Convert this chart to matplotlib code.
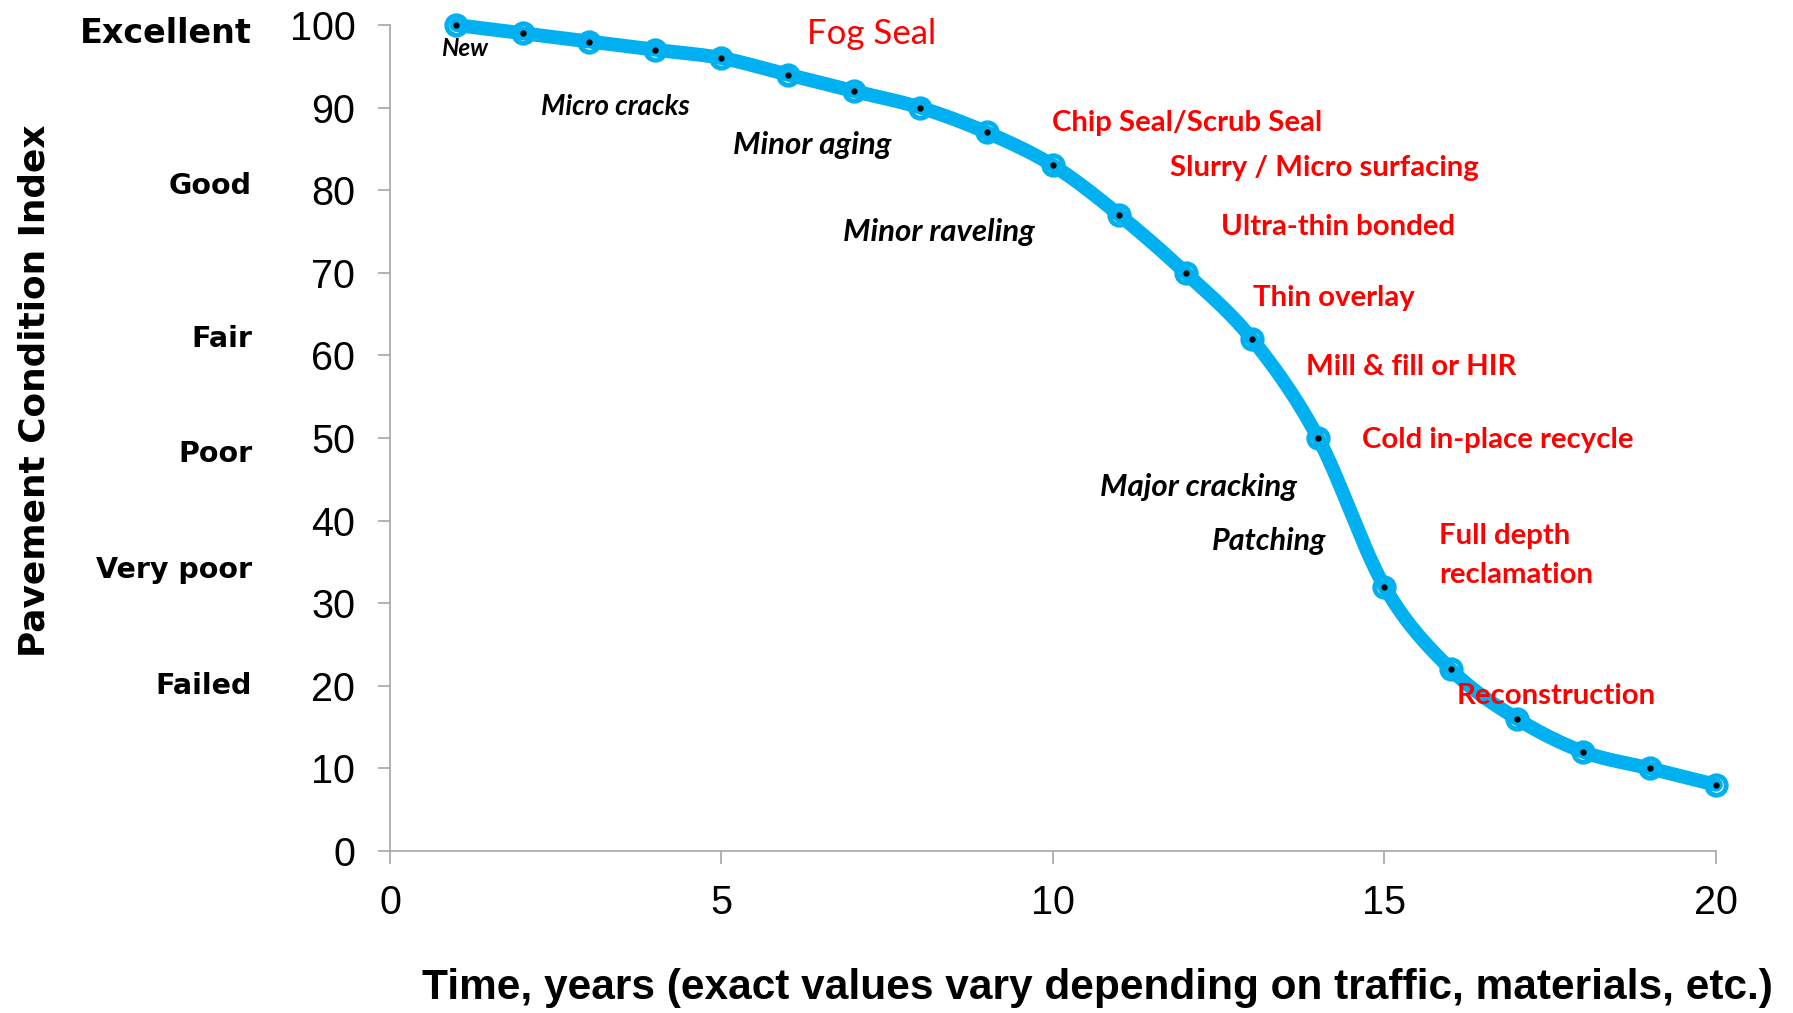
import numpy as np
import matplotlib
matplotlib.use("Agg")
import matplotlib.pyplot as plt

# PCI vs age
years = [1, 2, 3, 4, 5, 6, 7, 8, 9, 10, 11, 12, 13, 14, 15, 16, 17, 18, 19, 20]
pci = [100, 99, 98, 97, 96, 94, 92, 90, 87, 83, 77, 70, 62, 50, 32, 22, 16, 12, 10, 8]

x_ticks = [0, 5, 10, 15, 20]
y_ticks = [0, 10, 20, 30, 40, 50, 60, 70, 80, 90, 100]

cond_labels = ["Excellent", "Good", "Fair", "Poor", "Very poor", "Failed"]
cond_levels = [99, 80.5, 62, 48, 34, 20]

distress_labels = ["New", "Micro cracks", "Minor aging", "Minor raveling",
                   "Major cracking", "Patching"]
distress_x = [1.13, 2.28, 5.17, 6.83, 10.71, 12.40]
distress_y = [97.1, 90.1, 85.5, 74.9, 44.1, 37.5]

treat_labels = ["Chip Seal/Scrub Seal", "Slurry / Micro surfacing", "Ultra-thin bonded",
                "Thin overlay", "Mill & fill or HIR", "Cold in-place recycle",
                "Full depth\nreclamation", "Reconstruction"]
treat_x = [9.98, 11.76, 12.53, 13.02, 13.82, 14.66, 15.82, 16.09]
treat_y = [88.1, 82.7, 75.6, 66.9, 58.6, 49.7, 35.8, 18.8]

BLUE = "#00B0F0"
RED = "#FF0000"
GRAY = "#A6A6A6"


def smooth_curve(x, y, n=40):
    # Catmull-Rom through the points, like Excel's "smoothed line"
    pts = np.column_stack([x, y]).astype(float)
    P = np.vstack([pts[0], pts, pts[-1]])
    t = np.linspace(0, 1, n)[:, None]
    segs = []
    for i in range(1, len(P) - 2):
        p0, p1, p2, p3 = P[i - 1], P[i], P[i + 1], P[i + 2]
        seg = 0.5 * (2 * p1 + (-p0 + p2) * t
                     + (2 * p0 - 5 * p1 + 4 * p2 - p3) * t ** 2
                     + (-p0 + 3 * p1 - 3 * p2 + p3) * t ** 3)
        segs.append(seg)
    c = np.vstack(segs)
    return c[:, 0], c[:, 1]


fig = plt.figure(figsize=(17.93, 10.13), dpi=100)
ax = fig.add_axes([0.2175, 0.160, 0.7395, 0.8153])

sx, sy = smooth_curve(years, pci)
ax.plot(sx, sy, color=BLUE, lw=10, solid_capstyle="round", solid_joinstyle="round",
        zorder=2, clip_on=False)
ax.plot(years, pci, ls="none", marker="o", ms=14, mfc="none", mec=BLUE, mew=3.5,
        zorder=3, clip_on=False)
ax.plot(years, pci, ls="none", marker="o", ms=3.5, mfc="black", mec="black",
        zorder=4, clip_on=False)

ax.set_xlim(0, 20)
ax.set_ylim(0, 100)
ax.set_xticks(x_ticks)
ax.set_yticks(y_ticks)

for s in ["top", "right"]:
    ax.spines[s].set_visible(False)
for s in ["left", "bottom"]:
    ax.spines[s].set_color(GRAY)
    ax.spines[s].set_linewidth(1.2)

ax.tick_params(axis="both", direction="out", length=9, width=1.2, color=GRAY,
               labelsize=28.5, labelcolor="black")
ax.tick_params(axis="y", pad=16)
ax.tick_params(axis="x", pad=15)
for lab in ax.get_xticklabels() + ax.get_yticklabels():
    lab.set_family("Liberation Sans")

fig.text(0.612, 0.025, "Time, years (exact values vary depending on traffic, materials, etc.)",
         ha="center", va="center", family="Liberation Sans", fontsize=30.5,
         fontweight="bold")
fig.text(0.019, 0.614, "Pavement Condition Index", rotation=90, ha="center",
         va="center", family="DejaVu Sans", fontsize=25.8, fontweight="bold")

# condition ratings left of the axis
for i, (lab, lev) in enumerate(zip(cond_labels, cond_levels)):
    ax.text(-2.08, lev, lab, ha="right", va="center", family="DejaVu Sans",
            fontsize=24 if i == 0 else 20.5, fontweight="bold", clip_on=False)

# distress descriptions
distress_sizes = [17.5, 20, 22.5, 22.5, 22.5, 22]
for i, (lab, dx, dy) in enumerate(zip(distress_labels, distress_x, distress_y)):
    ax.text(dx, dy, lab, ha="center" if i == 0 else "left", va="center",
            family="Lato", style="italic", fontweight="bold",
            fontsize=distress_sizes[i], color="black", zorder=5)

# treatments
ax.text(6.29, 98.9, "Fog Seal", ha="left", va="center", color=RED, fontsize=25,
        family="Lato", zorder=5)
for lab, tx, ty in zip(treat_labels, treat_x, treat_y):
    ax.text(tx, ty, lab, ha="left", va="center", color=RED, fontsize=21.2,
            family="Lato", fontweight="bold", linespacing=1.6, zorder=5)

fig.savefig("out.png", dpi=100)
